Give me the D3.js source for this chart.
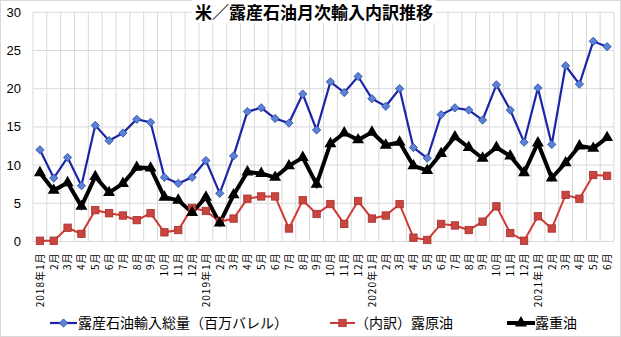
<!DOCTYPE html>
<html><head><meta charset="utf-8">
<script src="https://cdn.jsdelivr.net/npm/d3@7"></script>
<style>
html,body{margin:0;padding:0;background:#fff;}
svg{display:block;}
</style></head>
<body>
<svg id="c" width="621" height="337"></svg>
<script>
const title = "米／露産石油月次輸入内訳推移";
const months = [
 "2018年1月","2月","3月","4月","5月","6月","7月","8月","9月","10月","11月","12月",
 "2019年1月","2月","3月","4月","5月","6月","7月","8月","9月","10月","11月","12月",
 "2020年1月","2月","3月","4月","5月","6月","7月","8月","9月","10月","11月","12月",
 "2021年1月","2月","3月","4月","5月","6月"];
const totalImports = [12.0,8.3,11.0,7.3,15.2,13.2,14.2,16.0,15.6,8.4,7.6,8.4,
 10.6,6.3,11.2,17.0,17.5,16.1,15.5,19.3,14.6,20.9,19.5,21.6,
 18.7,17.7,20.0,12.3,10.9,16.6,17.5,17.2,15.9,20.5,17.2,13.0,
 20.1,12.7,23.0,20.6,26.2,25.5];
const crudeOil = [0.1,0.1,1.8,1.0,4.1,3.7,3.4,2.8,3.7,1.2,1.5,4.4,
 4.0,2.6,3.0,5.6,5.9,5.9,1.7,5.4,3.6,4.9,2.3,5.3,
 3.0,3.4,4.9,0.5,0.2,2.3,2.1,1.5,2.6,4.6,1.1,0.1,
 3.3,1.7,6.1,5.6,8.7,8.6];
const heavyOil = [9.0,6.7,7.7,4.6,8.5,6.4,7.6,9.7,9.6,5.8,5.4,3.8,
 5.8,2.4,6.1,9.1,8.9,8.4,9.9,11.0,7.5,12.8,14.2,13.3,
 14.3,12.6,13.0,9.9,9.3,11.5,13.7,12.3,10.9,12.3,11.2,9.0,
 12.9,8.3,10.3,12.5,12.2,13.6];
const yTicks = [0,5,10,15,20,25,30];
const legendLabels = ["露産石油輸入総量（百万バレル）","（内訳）露原油","露重油"];

const svg = d3.select("#c");
const W=621,H=337;
const L=33,R=614,T=12.3,B=241.5;

svg.append("rect").attr("x",0.5).attr("y",0.5).attr("width",W-1).attr("height",H-1)
  .attr("fill","#fff").attr("stroke","#d9d9d9");

const x = d3.scaleBand().domain(d3.range(months.length)).range([L,R]).padding(0);
const cx = i => x(i)+x.bandwidth()/2;
const y = d3.scaleLinear().domain([0,30]).range([B,T]);

// grid
const g = svg.append("g");
g.selectAll("line.h").data(yTicks).join("line")
  .attr("x1",L).attr("x2",R).attr("y1",d=>y(d)).attr("y2",d=>y(d))
  .attr("stroke","#d9d9d9").attr("stroke-width",1);
g.selectAll("line.v").data(d3.range(months.length+1)).join("line")
  .attr("x1",d=>L+d*x.bandwidth()).attr("x2",d=>L+d*x.bandwidth())
  .attr("y1",T).attr("y2",B)
  .attr("stroke","#d9d9d9").attr("stroke-width",1);

// y axis labels
svg.append("g").selectAll("text").data(yTicks).join("text")
  .attr("x",21).attr("y",d=>y(d)).attr("dy","0.35em").attr("text-anchor","end")
  .attr("font-family","Liberation Sans, Arial, sans-serif").attr("font-size",13)
  .attr("fill","#000").text(d=>d);

// x labels
svg.append("g").selectAll("text").data(months).join("text")
  .attr("transform",(d,i)=>`translate(${cx(i)+3.8},${B+11}) rotate(-90)`)
  .attr("text-anchor","end")
  .attr("font-family","Noto Sans CJK JP, sans-serif").attr("font-size",10)
  .attr("letter-spacing","1px")
  .attr("fill","#000").text(d=>d);

// lines
const line = d3.line().x((d,i)=>cx(i)).y(d=>y(d));
svg.append("path").datum(crudeOil).attr("d",line).attr("fill","none")
  .attr("stroke","#d03a36").attr("stroke-width",2);
svg.append("path").datum(totalImports).attr("d",line).attr("fill","none")
  .attr("stroke","#1c25a8").attr("stroke-width",2.2);
svg.append("path").datum(heavyOil).attr("d",line).attr("fill","none")
  .attr("stroke","#000").attr("stroke-width",4).attr("stroke-linejoin","miter");

// markers
svg.append("g").selectAll("path").data(totalImports).join("path")
  .attr("transform",(d,i)=>`translate(${cx(i)},${y(d)}) rotate(45)`)
  .attr("d",d3.symbol().type(d3.symbolSquare).size(34)())
  .attr("fill","#5b82d6").attr("stroke","#2c4aa0").attr("stroke-width",0.8);
svg.append("g").selectAll("rect").data(crudeOil).join("rect")
  .attr("x",(d,i)=>cx(i)-3.7).attr("y",d=>y(d)-3.7).attr("width",7.4).attr("height",7.4)
  .attr("fill","#c9453f").attr("stroke","#a83030").attr("stroke-width",0.8);
svg.append("g").selectAll("path").data(heavyOil).join("path")
  .attr("transform",(d,i)=>`translate(${cx(i)},${y(d)})`)
  .attr("d",d3.symbol().type(d3.symbolTriangle).size(62)())
  .attr("fill","#000");

// title
const tg = svg.append("g");
const tbg = tg.append("rect").attr("fill","#fff");
const tt = tg.append("text").attr("x",314).attr("y",19).attr("text-anchor","middle")
  .attr("font-family","Noto Sans CJK JP, sans-serif").attr("font-size",17).attr("font-weight","bold")
  .attr("fill","#000").text(title);
const bb = tt.node().getBBox();
tbg.attr("x",bb.x-3).attr("y",bb.y+1).attr("width",bb.width+6).attr("height",bb.height-2);

// legend
const lg = svg.append("g").attr("font-family","Noto Sans CJK JP, sans-serif").attr("font-size",14);
const ly = 323;
lg.append("line").attr("x1",50).attr("x2",77).attr("y1",ly).attr("y2",ly).attr("stroke","#1c25a8").attr("stroke-width",2.2);
lg.append("path").attr("transform",`translate(63.5,${ly}) rotate(45)`).attr("d",d3.symbol().type(d3.symbolSquare).size(34)())
  .attr("fill","#5b82d6").attr("stroke","#2c4aa0").attr("stroke-width",0.8);
lg.append("text").attr("x",78).attr("y",ly).attr("dy","0.35em").text(legendLabels[0]);
lg.append("line").attr("x1",330).attr("x2",355).attr("y1",ly).attr("y2",ly).attr("stroke","#d03a36").attr("stroke-width",2);
lg.append("rect").attr("x",342.5-3.7).attr("y",ly-3.7).attr("width",7.4).attr("height",7.4)
  .attr("fill","#c9453f").attr("stroke","#a83030").attr("stroke-width",0.8);
lg.append("text").attr("x",355).attr("y",ly).attr("dy","0.35em").text(legendLabels[1]);
lg.append("line").attr("x1",507).attr("x2",535).attr("y1",ly).attr("y2",ly).attr("stroke","#000").attr("stroke-width",4);
lg.append("path").attr("transform",`translate(521,${ly})`).attr("d",d3.symbol().type(d3.symbolTriangle).size(62)()).attr("fill","#000");
lg.append("text").attr("x",535).attr("y",ly).attr("dy","0.35em").text(legendLabels[2]);
</script>
</body></html>
